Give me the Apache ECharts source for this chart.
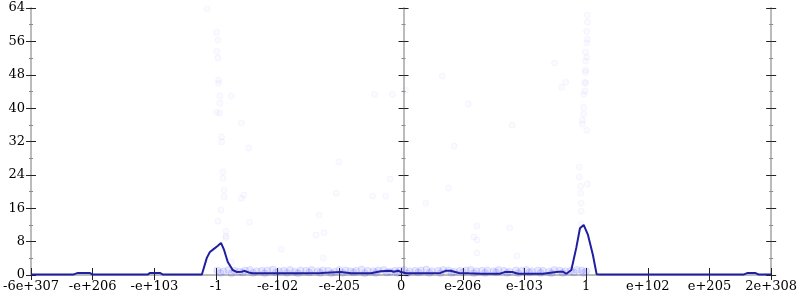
<!DOCTYPE html>
<html>
<head>
<meta charset="utf-8">
<script src="https://cdn.jsdelivr.net/npm/echarts@6/dist/echarts.min.js"></script>
<style>html,body{margin:0;padding:0;background:#fff}#c{width:800px;height:300px}</style>
</head>
<body>
<div id="c"></div>
<script>
// Tick labels (x positions are tick indices 0..12)
var xTickLabels = ['-6e+307','-e+206','-e+103','-1','-e-102','-e-205','0','e-206','e-103','1','e+102','e+205','2e+308'];
var yTicks = [0, 8, 16, 24, 32, 40, 48, 56, 64];

// Error line (x in tick-index units, y = bits of error)
var lineX = [0.00,0.68,0.76,0.95,1.00,1.89,1.93,2.09,2.14,2.77,2.80,2.85,2.90,2.96,3.03,3.08,3.13,3.19,3.27,3.34,3.42,3.46,3.53,3.59,3.66,3.90,4.38,4.70,4.86,5.02,5.19,5.51,5.67,5.83,5.88,5.96,6.00,6.08,6.30,6.64,6.72,6.80,6.94,7.10,7.30,7.60,7.68,7.80,7.90,8.30,8.55,8.62,8.68,8.76,8.84,8.90,8.96,9.03,9.11,9.17,9.24,9.40,11.55,11.62,11.74,11.80,12.00];
var lineY = [0.1,0.1,0.5,0.5,0.1,0.1,0.5,0.5,0.1,0.1,0.3,4.1,5.5,6.2,7.0,7.7,6.0,3.1,1.2,0.7,0.8,1.0,0.6,0.4,0.4,0.4,0.4,0.5,0.6,0.7,0.4,0.4,0.9,1.0,0.8,1.0,0.7,0.4,0.4,0.5,1.0,1.0,0.5,0.4,0.3,0.3,0.7,0.7,0.3,0.3,0.8,0.8,0.3,1.2,6.5,11.2,12.0,9.6,4.8,0.2,0.1,0.1,0.1,0.5,0.5,0.1,0.1];

// Sample points (upper scattered ones)
var ptsX = [2.85,3.01,3.03,3.01,3.03,3.04,3.04,3.06,3.25,3.06,3.01,3.06,3.41,3.09,3.09,3.53,3.11,3.11,3.13,3.13,3.08,3.03,3.16,3.16,3.16,3.45,3.41,3.54,3.25,4.06,4.99,4.95,4.67,4.62,4.75,4.74,5.54,5.75,5.82,5.57,5.86,
            9.02,9.02,9.01,9.02,9.01,8.99,9.01,8.99,8.99,8.99,8.98,8.99,8.49,6.67,6.07,8.60,8.67,7.09,7.80,8.98,8.96,8.96,8.96,8.94,8.94,9.01,6.86,
            6.40,6.77,7.23,7.18,7.23,7.23,7.76,7.88,8.89,8.89,8.91,8.91,8.92,8.92,8.92,9.02];
var ptsY = [63.8,58.2,56.3,53.6,52.0,46.7,46.0,42.9,42.9,41.2,39.0,38.8,36.4,33.1,31.9,30.4,24.7,23.2,20.4,18.7,15.6,12.9,10.5,9.3,8.9,19.2,18.4,12.7,3.1,6.2,27.1,19.6,14.4,9.6,10.1,4.1,18.9,18.9,23.0,43.3,43.3,
            62.3,60.6,58.4,56.5,55.6,53.4,52.2,51.3,49.1,48.6,46.2,46.0,50.8,47.7,44.3,45.0,46.2,41.0,35.9,44.1,43.3,40.2,38.6,37.1,36.2,34.7,30.9,
            17.2,20.8,11.7,9.1,8.4,5.3,11.3,4.6,25.9,23.5,21.3,19.6,17.2,15.3,12.2,21.8];

// Dense low-error samples along the bottom
var bandX = [3.02,3.12,3.20,3.30,3.38,3.47,3.55,3.66,3.74,3.83,3.92,4.02,4.10,4.20,4.28,4.37,4.46,4.55,4.65,4.73,4.82,4.92,5.00,5.10,5.18,5.27,5.36,5.46,5.55,5.63,5.72,5.82,5.90,5.98,6.05,6.14,6.23,6.32,6.41,6.50,6.60,6.68,6.77,6.86,6.95,7.05,7.13,7.22,7.31,7.40,7.50,7.58,7.67,7.76,7.86,7.95,8.03,8.12,8.22,8.30,8.40,8.48,8.57,8.66,8.75,8.85,8.93,9.00,
             3.07,3.25,3.43,3.60,3.79,3.97,4.15,4.33,4.51,4.69,4.87,5.05,5.23,5.41,5.59,5.77,5.94,6.10,6.28,6.46,6.64,6.82,7.00,7.18,7.36,7.54,7.72,7.90,8.08,8.26,8.44,8.62,8.80,8.96];
var bandY = [1.1,0.9,1.2,1.0,0.8,1.1,1.2,0.9,1.0,1.1,1.3,0.9,1.0,1.2,0.8,1.1,1.0,1.2,0.9,1.1,1.0,0.8,1.2,1.1,0.9,1.0,1.3,1.0,0.9,1.1,1.2,0.8,1.0,1.1,1.2,0.9,1.0,1.1,1.3,0.9,1.0,1.2,1.1,0.8,1.0,1.1,1.2,0.9,1.0,1.1,0.9,1.2,1.0,0.8,1.1,1.0,1.2,0.9,1.1,1.0,0.8,1.2,1.1,0.9,1.0,1.2,1.1,0.9,
             0.5,0.4,0.6,0.5,0.4,0.6,0.5,0.4,0.6,0.5,0.4,0.5,0.6,0.4,0.5,0.6,0.5,0.4,0.6,0.5,0.4,0.5,0.6,0.4,0.5,0.6,0.5,0.4,0.6,0.5,0.4,0.5,0.6,0.5];

function zip(a, b) { return a.map(function (v, i) { return [v, b[i]]; }); }

var AXIS_GRAY = '#bbbbbb';
var FONT = 'DejaVu Serif';

function yAx(pos, offset, inside, withLine, withLabel) {
  return {
    type: 'value', position: pos, offset: offset, min: 0, max: 64, interval: 8,
    axisLine: { show: withLine, lineStyle: { color: AXIS_GRAY, width: 2 } },
    axisTick: { show: true, inside: inside, length: 5, lineStyle: { color: '#222', width: 1 } },
    minorTick: { show: true, splitNumber: 2, length: 2, lineStyle: { color: '#888', width: 1 } },
    axisLabel: { show: withLabel, margin: 6, color: '#000', fontFamily: FONT, fontSize: 13 },
    splitLine: { show: false }
  };
}

var chart = echarts.init(document.getElementById('c'), null, { renderer: 'canvas' });
chart.setOption({
  animation: false,
  backgroundColor: '#fff',
  grid: { left: 28, right: 27, top: 8, bottom: 25, containLabel: false },
  xAxis: [
    { type: 'value', position: 'bottom', min: 0, max: 12, interval: 1,
      axisLine: { show: true, onZero: false, lineStyle: { color: AXIS_GRAY, width: 2 } },
      axisTick: { show: true, inside: false, length: 5, lineStyle: { color: '#222' } },
      axisLabel: { margin: 5, color: '#000', fontFamily: FONT, fontSize: 13,
        formatter: function (v) { return xTickLabels[Math.round(v)]; } },
      splitLine: { show: false } },
    { type: 'value', position: 'bottom', min: 0, max: 12, interval: 1,
      axisLine: { show: false }, axisTick: { show: true, inside: true, length: 7, lineStyle: { color: '#222' } },
      axisLabel: { show: false }, splitLine: { show: false } },
    { type: 'value', position: 'top', min: 0, max: 12, interval: 1,
      axisLine: { show: true, lineStyle: { color: AXIS_GRAY, width: 2 } },
      axisTick: { show: false }, axisLabel: { show: false }, splitLine: { show: false } }
  ],
  yAxis: [
    yAx('left', 0, false, true, true),
    yAx('left', 0, true, false, false),
    yAx('left', -372.5, false, true, false),
    yAx('left', -372.5, true, false, false),
    yAx('right', 0, false, true, false),
    yAx('right', 0, true, false, false)
  ],
  series: [
    { type: 'scatter', xAxisIndex: 0, yAxisIndex: 0, data: zip(bandX, bandY), symbolSize: 7,
      itemStyle: { color: 'rgba(80,80,255,0.16)', borderColor: 'rgba(80,80,255,0.16)', borderWidth: 1 }, silent: true },
    { type: 'scatter', xAxisIndex: 0, yAxisIndex: 0, data: zip(ptsX, ptsY), symbolSize: 6,
      itemStyle: { color: 'rgba(110,110,255,0.04)', borderColor: 'rgba(110,110,255,0.07)', borderWidth: 1 }, silent: true },
    { type: 'line', xAxisIndex: 0, yAxisIndex: 0, data: zip(lineX, lineY), showSymbol: false, symbol: 'none',
      lineStyle: { color: '#1f1fa0', width: 2 }, z: 5 }
  ]
});
</script>
</body>
</html>
